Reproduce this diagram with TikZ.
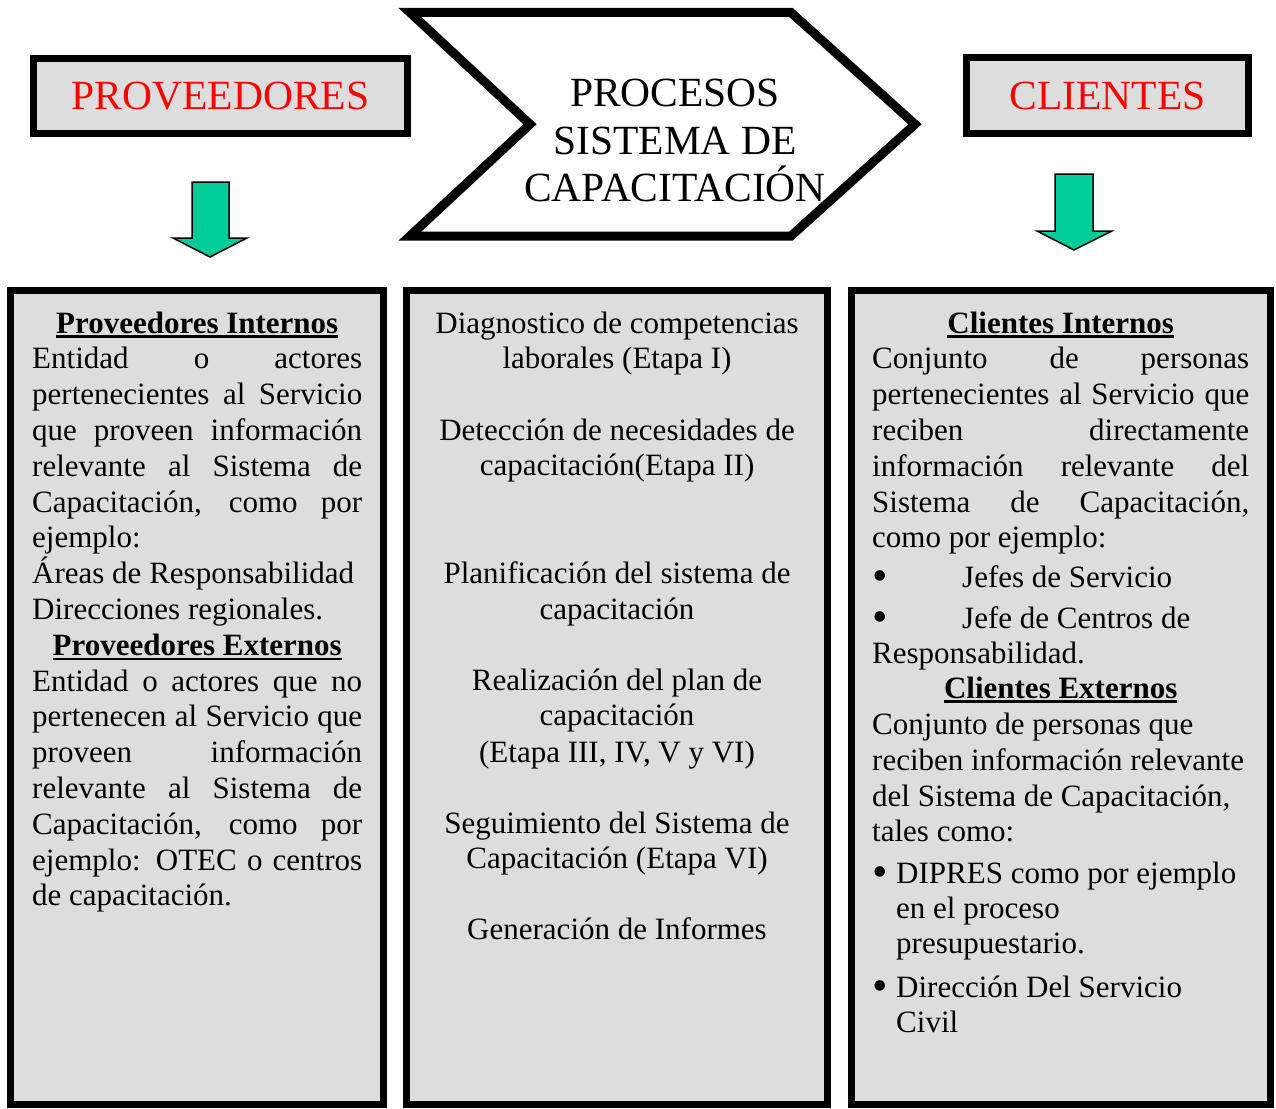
\documentclass[tikz,border=0pt]{standalone}
\usepackage{fontspec}
\setmainfont{Liberation Serif}
\definecolor{boxgray}{RGB}{221,221,221}
\definecolor{arrowgreen}{RGB}{0,204,153}
\newcommand\bodyf{\fontsize{31}{36}\selectfont}
\newcommand\bigf{\fontsize{41.5}{47.5}\selectfont}
\newcommand\ulbf[1]{\setbox0\hbox{\bfseries #1}\rlap{\rule[-5pt]{\wd0}{2.6pt}}\box0}
\newcommand\bigbul{\raisebox{-3pt}{\fontsize{44}{44}\selectfont •}}
\tikzset{
  titlebox/.style={draw, line width=7pt, fill=boxgray, text=red, font=\bigf, inner sep=0pt},
  colbox/.style={draw, line width=7pt, fill=boxgray, inner sep=0pt},
  greenarrow/.style={fill=arrowgreen, draw=black, line width=1.5pt, line join=miter},
  chev/.style={draw, line width=9pt, line join=miter},
  bigtxt/.style={font=\bigf, anchor=base, inner sep=0pt},
  txtline/.style={font=\bodyf, anchor=base west, inner sep=0pt},
  txtmid/.style={font=\bodyf, anchor=base, inner sep=0pt},
}
\begin{document}
\begin{tikzpicture}[x=1pt,y=-1pt]
\useasboundingbox (0,0) rectangle (1276,1108);

% top title boxes
\node[titlebox, minimum width=374pt, minimum height=75pt] (prov) at (220.5,96) {PROVEEDORES};
\node[titlebox, minimum width=282pt, minimum height=76pt] (cli) at (1107.5,95.5) {CLIENTES};

% chevron
\draw[chev] (410,12.5) -- (791,12.5) -- (915,124.25) -- (791,236) -- (410,236) -- (530,124.25) -- cycle;
\node[bigtxt] (proc1) at (675,106) {PROCESOS};
\node[bigtxt] (proc2) at (675,154) {SISTEMA DE};
\node[bigtxt] (proc3) at (675,201) {CAPACITACIÓN};

% green arrows
\draw[greenarrow] (192,182) -- (229,182) -- (229,238) -- (247,238) -- (210,257) -- (173,238) -- (192,238) -- cycle;
\draw[greenarrow] (1055,174) -- (1093,174) -- (1093,231) -- (1112,231) -- (1074,250) -- (1037,231) -- (1055,231) -- cycle;

% columns
\node[colbox, minimum width=373pt, minimum height=814pt] (colL) at (197,697.5) {};
\node[colbox, minimum width=421pt, minimum height=814pt] (colM) at (617,697.5) {};
\node[colbox, minimum width=419pt, minimum height=814pt] (colR) at (1061,697.5) {};

% left column text
\foreach \t/\m [count=\k from 0] in {
  {\ulbf{Proveedores Internos}}/c,
  {Entidad o actores}/s,
  {pertenecientes al Servicio}/s,
  {que proveen información}/s,
  {relevante al Sistema de}/s,
  {Capacitación, como por}/s,
  {ejemplo:}/l,
  {Áreas de Responsabilidad}/l,
  {Direcciones regionales.}/l,
  {\ulbf{Proveedores Externos}}/c,
  {Entidad o actores que no}/s,
  {pertenecen al Servicio que}/s,
  {proveen información}/s,
  {relevante al Sistema de}/s,
  {Capacitación, como por}/s,
  {ejemplo: OTEC o centros}/s,
  {de capacitación.}/l}
  {\node[txtline] (pl\k) at (32,{333+35.8*\k}) {\makebox[330pt][\m]{\t}};}

% middle column text
\foreach \y/\t [count=\k] in {
  333/{Diagnostico de competencias},
  368/{laborales (Etapa I)},
  440/{Detección de necesidades de},
  475/{capacitación(Etapa II)},
  583/{Planificación del sistema de},
  619/{capacitación},
  690/{Realización del plan de},
  725/{capacitación},
  762/{(Etapa III, IV, V y VI)},
  833/{Seguimiento del Sistema de},
  868/{Capacitación (Etapa VI)},
  939/{Generación de Informes}}
  {\node[txtmid] (pm\k) at (617,\y) {\t};}

% right column text
\foreach \y/\t/\m [count=\k] in {
  333/{\ulbf{Clientes Internos}}/c,
  368.8/{Conjunto de personas}/s,
  404.6/{pertenecientes al Servicio que}/s,
  440.4/{reciben directamente}/s,
  476.2/{información relevante del}/s,
  512/{Sistema de Capacitación,}/s,
  547.8/{como por ejemplo:}/l,
  587/{\makebox[90pt][l]{\bigbul}Jefes de Servicio}/l,
  628/{\makebox[90pt][l]{\bigbul}Jefe de Centros de}/l,
  663/{Responsabilidad.}/l,
  698/{\ulbf{Clientes Externos}}/c,
  734/{Conjunto de personas que}/l,
  770/{reciben información relevante}/l,
  806/{del Sistema de Capacitación,}/l,
  841/{tales como:}/l,
  883/{\makebox[24pt][l]{\bigbul}DIPRES como por ejemplo}/l,
  918/{\hspace*{24pt}en el proceso}/l,
  953/{\hspace*{24pt}presupuestario.}/l,
  997/{\makebox[24pt][l]{\bigbul}Dirección Del Servicio}/l,
  1032/{\hspace*{24pt}Civil}/l}
  {\node[txtline] (pr\k) at (872,\y) {\makebox[377pt][\m]{\t}};}
\end{tikzpicture}
\end{document}
